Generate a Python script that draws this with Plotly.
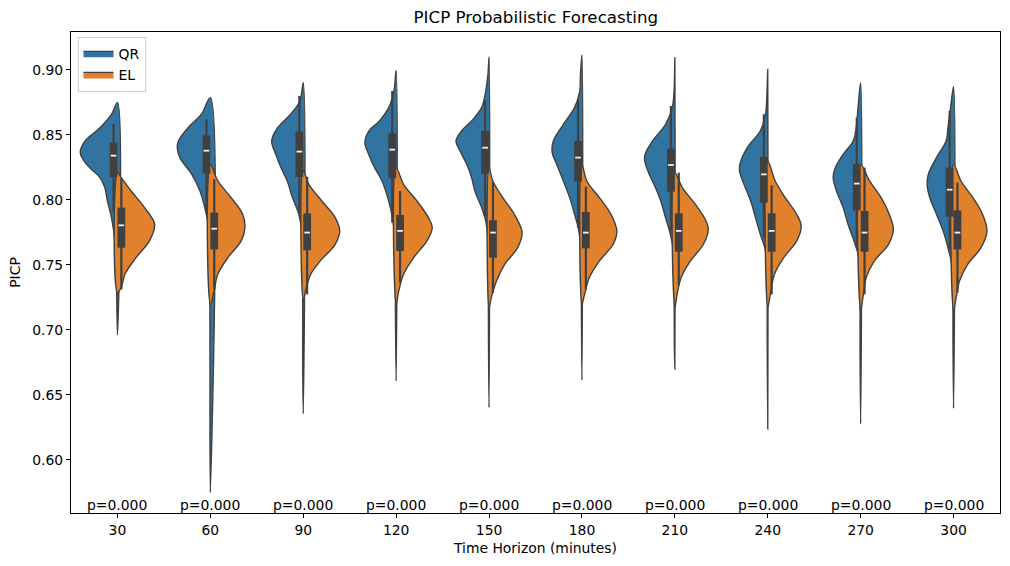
import plotly.graph_objects as go

horizons = ["30", "60", "90", "120", "150", "180", "210", "240", "270", "300"]
p_values = ["p=0.000"] * 10

# Violin outlines: PICP levels and relative half-widths (1.0 = widest)
qr_levels = [
    [0.8749, 0.8659, 0.8556, 0.8454, 0.8364, 0.8274, 0.8172, 0.8095, 0.7992, 0.7864, 0.7685, 0.7428, 0.7172, 0.6962],
    [0.8787, 0.8659, 0.8556, 0.8454, 0.8402, 0.8326, 0.8197, 0.8069, 0.7941, 0.7813, 0.7685, 0.7428, 0.7172, 0.6659, 0.6146, 0.5749],
    [0.8902, 0.8761, 0.8659, 0.8556, 0.8454, 0.8351, 0.8249, 0.8146, 0.8018, 0.7890, 0.7761, 0.7556, 0.7172, 0.6787, 0.6356],
    [0.8997, 0.8838, 0.8710, 0.8608, 0.8531, 0.8441, 0.8351, 0.8249, 0.8146, 0.7992, 0.7864, 0.7736, 0.7556, 0.7172, 0.6608],
    [0.9100, 0.8967, 0.8838, 0.8710, 0.8608, 0.8531, 0.8454, 0.8377, 0.8274, 0.8172, 0.8069, 0.7941, 0.7838, 0.7685, 0.7428, 0.6915, 0.6403],
    [0.9115, 0.8967, 0.8838, 0.8710, 0.8582, 0.8454, 0.8364, 0.8274, 0.8146, 0.8018, 0.7890, 0.7787, 0.7633, 0.7172, 0.6613],
    [0.9095, 0.8838, 0.8710, 0.8582, 0.8454, 0.8351, 0.8300, 0.8197, 0.8095, 0.7992, 0.7864, 0.7736, 0.7608, 0.7300, 0.6915, 0.6697],
    [0.9005, 0.8838, 0.8659, 0.8531, 0.8402, 0.8274, 0.8223, 0.8120, 0.7992, 0.7864, 0.7736, 0.7608, 0.7428, 0.6915, 0.6236],
    [0.8902, 0.8710, 0.8556, 0.8454, 0.8351, 0.8249, 0.8172, 0.8069, 0.7941, 0.7813, 0.7685, 0.7556, 0.7300, 0.6787, 0.6279],
    [0.8872, 0.8710, 0.8556, 0.8454, 0.8326, 0.8197, 0.8120, 0.8018, 0.7890, 0.7761, 0.7633, 0.7505, 0.7300, 0.6915, 0.6397],
]
qr_widths = [
    [0, 0.16, 0.47, 0.87, 1.0, 0.83, 0.47, 0.34, 0.27, 0.16, 0.07, 0.03, 0.015, 0],
    [0, 0.24, 0.6, 0.86, 0.89, 0.82, 0.5, 0.28, 0.15, 0.06, 0.03, 0.015, 0.012, 0.01, 0.01, 0],
    [0, 0.09, 0.34, 0.69, 0.85, 0.74, 0.6, 0.43, 0.29, 0.12, 0.04, 0.02, 0.015, 0.015, 0],
    [0, 0.06, 0.2, 0.45, 0.73, 0.84, 0.74, 0.58, 0.38, 0.2, 0.1, 0.04, 0.025, 0.02, 0],
    [0, 0.03, 0.09, 0.2, 0.47, 0.74, 0.89, 0.78, 0.6, 0.47, 0.38, 0.2, 0.09, 0.03, 0.02, 0.015, 0],
    [0, 0.04, 0.06, 0.2, 0.5, 0.77, 0.8, 0.68, 0.5, 0.33, 0.2, 0.1, 0.03, 0.015, 0],
    [0, 0.02, 0.07, 0.25, 0.6, 0.8, 0.81, 0.69, 0.52, 0.38, 0.25, 0.12, 0.04, 0.02, 0.015, 0],
    [0, 0.02, 0.06, 0.2, 0.55, 0.75, 0.76, 0.64, 0.46, 0.33, 0.2, 0.06, 0.02, 0.015, 0],
    [0, 0.07, 0.12, 0.2, 0.47, 0.68, 0.74, 0.65, 0.47, 0.34, 0.18, 0.05, 0.02, 0.015, 0],
    [0, 0.08, 0.15, 0.2, 0.46, 0.68, 0.71, 0.64, 0.46, 0.28, 0.15, 0.05, 0.02, 0.015, 0],
]
el_levels = [
    [0.8210, 0.8172, 0.8069, 0.7941, 0.7813, 0.7685, 0.7556, 0.7428, 0.7326, 0.7287],
    [0.8274, 0.8146, 0.8018, 0.7890, 0.7787, 0.7685, 0.7556, 0.7428, 0.7300, 0.7197],
    [0.8223, 0.8120, 0.7992, 0.7864, 0.7761, 0.7659, 0.7531, 0.7428, 0.7300, 0.7223],
    [0.8249, 0.8120, 0.7992, 0.7864, 0.7787, 0.7685, 0.7556, 0.7428, 0.7300, 0.7197],
    [0.8249, 0.8146, 0.8018, 0.7890, 0.7749, 0.7633, 0.7505, 0.7377, 0.7249, 0.7172],
    [0.8274, 0.8146, 0.8018, 0.7890, 0.7761, 0.7659, 0.7531, 0.7403, 0.7274, 0.7197],
    [0.8210, 0.8095, 0.7967, 0.7838, 0.7774, 0.7659, 0.7531, 0.7403, 0.7274, 0.7172],
    [0.8300, 0.8146, 0.8018, 0.7890, 0.7800, 0.7685, 0.7556, 0.7428, 0.7274, 0.7172],
    [0.8274, 0.8146, 0.8018, 0.7890, 0.7774, 0.7659, 0.7531, 0.7403, 0.7249, 0.7146],
    [0.8274, 0.8146, 0.8018, 0.7890, 0.7761, 0.7633, 0.7505, 0.7377, 0.7249, 0.7146],
]
el_widths = [
    [0, 0.1, 0.37, 0.73, 1.0, 0.86, 0.5, 0.2, 0.1, 0],
    [0, 0.2, 0.56, 0.87, 0.93, 0.83, 0.47, 0.2, 0.1, 0],
    [0, 0.15, 0.5, 0.86, 0.98, 0.86, 0.46, 0.2, 0.06, 0],
    [0, 0.2, 0.56, 0.87, 0.97, 0.83, 0.47, 0.2, 0.07, 0],
    [0, 0.1, 0.37, 0.68, 0.89, 0.77, 0.42, 0.2, 0.06, 0],
    [0, 0.13, 0.47, 0.78, 0.94, 0.84, 0.47, 0.2, 0.07, 0],
    [0, 0.2, 0.55, 0.84, 0.9, 0.77, 0.42, 0.17, 0.06, 0],
    [0, 0.2, 0.47, 0.78, 0.9, 0.78, 0.43, 0.18, 0.07, 0],
    [0, 0.24, 0.55, 0.77, 0.88, 0.75, 0.37, 0.15, 0.06, 0],
    [0, 0.2, 0.52, 0.78, 0.9, 0.74, 0.38, 0.16, 0.07, 0],
]

# Inner box statistics
qr_q1 = [0.8177, 0.8202, 0.8177, 0.8167, 0.8202, 0.8141, 0.8064, 0.7979, 0.7920, 0.7872]
qr_med = [0.8341, 0.8379, 0.8372, 0.8387, 0.8402, 0.8326, 0.8269, 0.8197, 0.8126, 0.8079]
qr_q3 = [0.8441, 0.8497, 0.8526, 0.8513, 0.8531, 0.8454, 0.8395, 0.8331, 0.8274, 0.8249]
qr_wlo = [0.7910, 0.7910, 0.7895, 0.7826, 0.7877, 0.7787, 0.7762, 0.7710, 0.7646, 0.7620]
qr_whi = [0.8587, 0.8620, 0.8800, 0.8838, 0.8767, 0.8774, 0.8723, 0.8659, 0.8633, 0.8685]

el_q1 = [0.7633, 0.7620, 0.7613, 0.7608, 0.7556, 0.7628, 0.7602, 0.7602, 0.7602, 0.7620]
el_med = [0.7805, 0.7779, 0.7749, 0.7762, 0.7749, 0.7749, 0.7762, 0.7762, 0.7749, 0.7749]
el_q3 = [0.7941, 0.7903, 0.7897, 0.7885, 0.7844, 0.7908, 0.7897, 0.7897, 0.7915, 0.7920]
el_wlo = [0.7313, 0.7313, 0.7274, 0.7364, 0.7287, 0.7313, 0.7344, 0.7274, 0.7274, 0.7287]
el_whi = [0.8167, 0.8159, 0.8177, 0.8069, 0.8141, 0.8102, 0.8210, 0.8113, 0.8249, 0.8133]

QR_COLOR = "#3274a1"
EL_COLOR = "#e1812c"
EDGE = "#404040"
FONT = "DejaVu Sans"
HALF = 0.4
BOX_W = 0.084
fig = go.Figure()


def add_half(i, levels, widths, sign, color, name, show):
    xs = [i + sign * HALF * w for w in widths] + [i]
    ys = list(levels) + [levels[0]]
    fig.add_trace(go.Scatter(
        x=xs, y=ys, mode="lines", fill="toself", fillcolor=color,
        line=dict(color=EDGE, width=1.4, shape="spline", smoothing=1.0),
        name=name, legendgroup=name, showlegend=show, hoverinfo="skip"))


for i in range(len(horizons)):
    add_half(i, qr_levels[i], qr_widths[i], -1, QR_COLOR, "QR", i == 0)
    add_half(i, el_levels[i], el_widths[i], 1, EL_COLOR, "EL", i == 0)

shapes = []
for i in range(len(horizons)):
    for sign, q1, med, q3, wlo, whi in [(-1, qr_q1[i], qr_med[i], qr_q3[i], qr_wlo[i], qr_whi[i]),
                                         (1, el_q1[i], el_med[i], el_q3[i], el_wlo[i], el_whi[i])]:
        cx = i + sign * BOX_W / 2
        shapes.append(dict(type="line", xref="x", yref="y", x0=cx, x1=cx, y0=wlo, y1=whi,
                           line=dict(color=EDGE, width=2.2), layer="above"))
        shapes.append(dict(type="rect", xref="x", yref="y", x0=cx - BOX_W / 2, x1=cx + BOX_W / 2,
                           y0=q1, y1=q3, fillcolor=EDGE, line=dict(width=0), layer="above"))
        shapes.append(dict(type="line", xref="x", yref="y", x0=cx - 0.03, x1=cx + 0.03, y0=med, y1=med,
                           line=dict(color="#f2f2f2", width=1.8), layer="above"))

annotations = []
for i, p in enumerate(p_values):
    annotations.append(dict(x=i, y=0.5654, xref="x", yref="y", text=p, showarrow=False,
                            font=dict(family=FONT, size=13.9, color="black"),
                            xanchor="center", yanchor="middle"))

fig.update_layout(
    width=1010, height=566,
    margin=dict(l=71, r=10, t=32, b=53),
    paper_bgcolor="white", plot_bgcolor="white",
    font=dict(family=FONT, size=13.9, color="black"),
    title=dict(text="PICP Probabilistic Forecasting", x=0.5305, xanchor="center",
               y=1 - 17 / 566, yanchor="middle", font=dict(family=FONT, size=16.7, color="black")),
    shapes=shapes, annotations=annotations,
    showlegend=True,
    legend=dict(x=0.007, y=0.99, xanchor="left", yanchor="top", bgcolor="white",
                bordercolor="#d0d0d0", borderwidth=1, font=dict(family=FONT, size=13.9),
                itemwidth=30, tracegroupgap=0),
)
fig.update_xaxes(
    range=[-0.5, len(horizons) - 0.5], tickmode="array", tickvals=list(range(len(horizons))),
    ticktext=horizons, ticks="outside", ticklen=4, tickcolor="black", showline=True, mirror=True,
    linecolor="black", linewidth=1, showgrid=False, zeroline=False,
    title=dict(text="Time Horizon (minutes)", standoff=6, font=dict(family=FONT, size=13.9)),
)
fig.update_yaxes(
    range=[0.5592, 0.9292], tickmode="array", tickvals=[0.60, 0.65, 0.70, 0.75, 0.80, 0.85, 0.90],
    tickformat=".2f", ticks="outside", ticklen=4, tickcolor="black", showline=True, mirror=True,
    linecolor="black", linewidth=1, showgrid=False, zeroline=False,
    title=dict(text="PICP", standoff=8, font=dict(family=FONT, size=13.9)),
)

fig.write_html("out.html")
